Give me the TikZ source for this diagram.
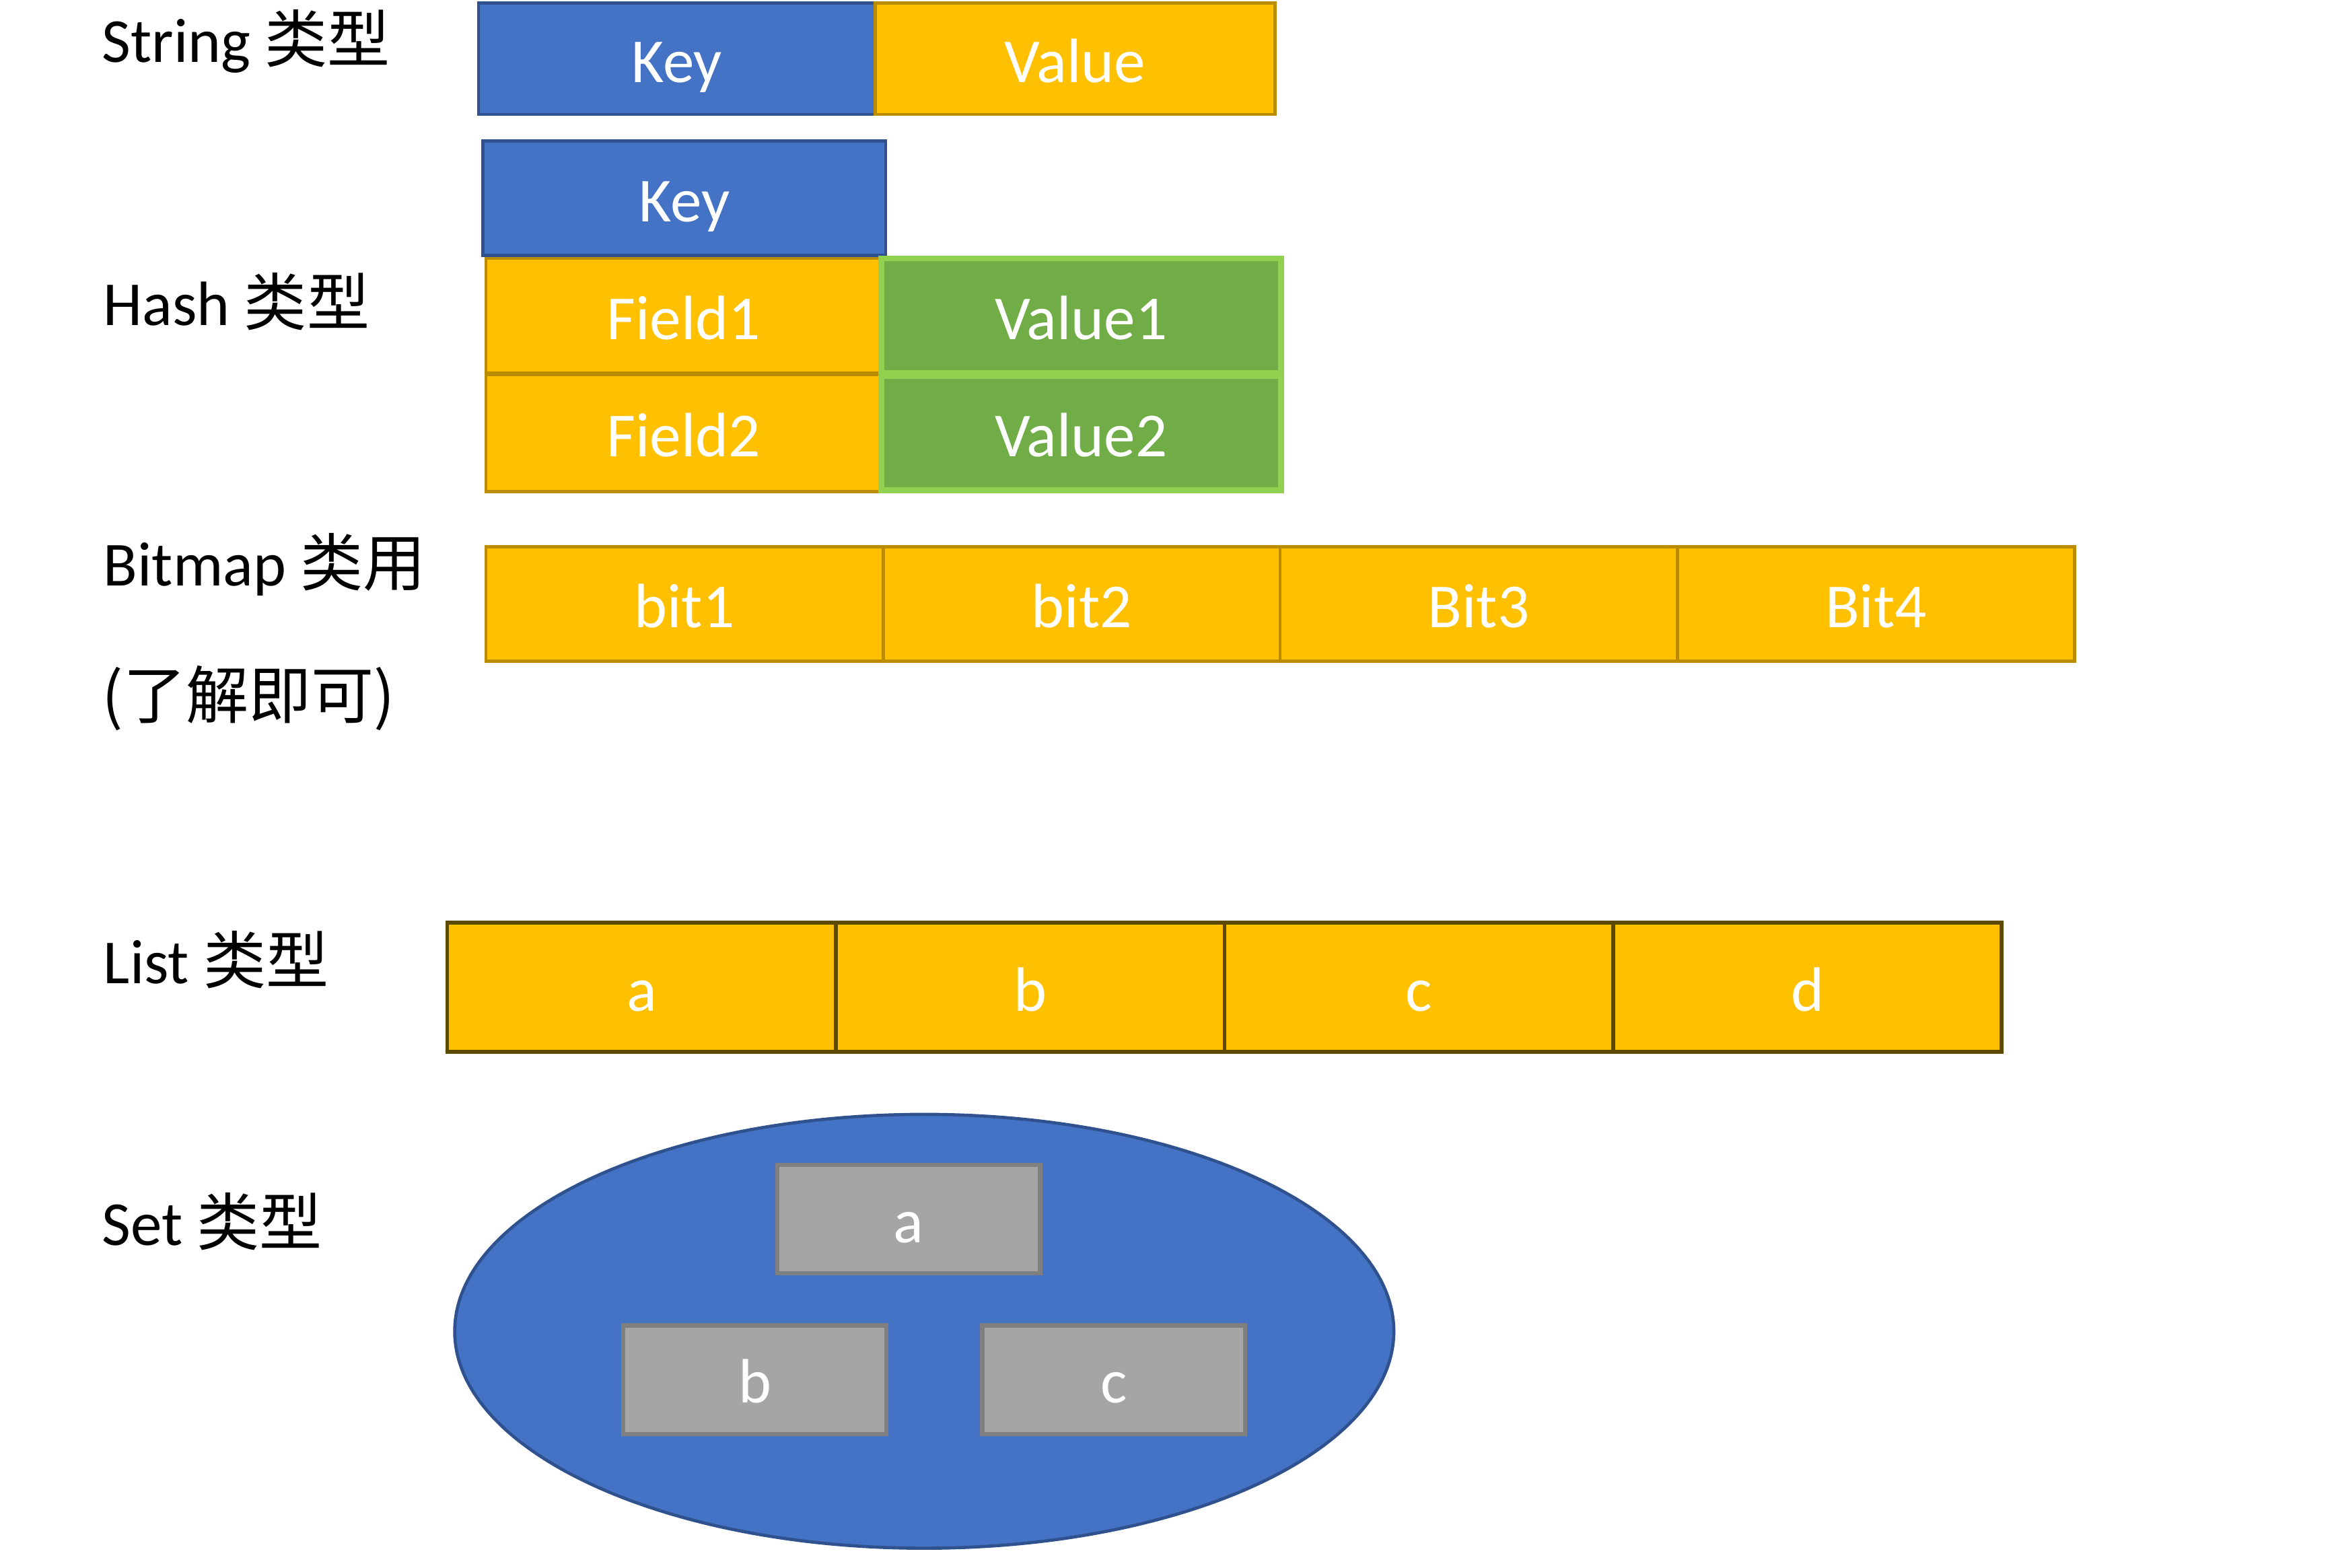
\documentclass[tikz,border=0pt]{standalone}
\usepackage{fontspec}
\setmainfont{Carlito}
\newfontfamily\cjk{Noto Sans CJK SC}
\usetikzlibrary{shapes.geometric}

\definecolor{keyblue}{HTML}{4472C4}
\definecolor{keyedge}{HTML}{2F528F}
\definecolor{gold}{HTML}{FFC000}
\definecolor{goldedge}{HTML}{BC8C00}
\definecolor{listedge}{HTML}{5C4A00}
\definecolor{valgreen}{HTML}{70AD47}
\definecolor{valedge}{HTML}{92D050}
\definecolor{setgray}{HTML}{A5A5A5}
\definecolor{grayedge}{HTML}{7F7F7F}

\begin{document}
\begin{tikzpicture}[x=1mm,y=-1mm,
	cell/.style={rectangle,inner sep=0pt,text=white,line width=0.6pt,text height=10pt,text depth=1pt,font=\fontsize{12}{14}\selectfont},
	keycell/.style={cell,fill=keyblue,draw=keyedge},
	goldcell/.style={cell,fill=gold,draw=goldedge},
	listcell/.style={cell,fill=gold,draw=listedge,line width=0.7pt,minimum width=26.15mm,minimum height=8.7mm},
	bitcell/.style={goldcell,minimum width=26.72mm,minimum height=7.7mm},
	greencell/.style={cell,fill=valgreen,draw=valedge,line width=1.1pt,minimum width=26.9mm},
	graycell/.style={cell,fill=setgray,draw=grayedge,line width=0.8pt,minimum width=17.7mm,minimum height=7.3mm},
	typelabel/.style={anchor=west,inner sep=0pt,font=\fontsize{12}{14}\selectfont}]
	\useasboundingbox (0,0) rectangle (156.8,105.5);

	% String
	\node[typelabel] (lstring) at (6.8,2.8) {String {\cjk 类型}};
	\node[keycell,minimum width=26.7mm,minimum height=7.5mm] (skey) at (45.55,3.95) {Key};
	\node[goldcell,minimum width=26.9mm,minimum height=7.5mm] (sval) at (72.35,3.95) {Value};

	% Hash
	\node[typelabel] (lhash) at (6.9,20.3) {Hash {\cjk 类型}};
	\node[keycell,minimum width=27.1mm,minimum height=7.7mm] (hkey) at (46.05,13.35) {Key};
	\node[goldcell,minimum width=26.6mm,minimum height=7.7mm] (hf1) at (46.0,21.25) {Field1};
	\node[greencell,minimum height=7.7mm] (hv1) at (72.75,21.25) {Value1};
	\node[goldcell,minimum width=26.6mm,minimum height=7.9mm] (hf2) at (46.0,29.15) {Field2};
	\node[greencell,minimum height=7.7mm] (hv2) at (72.75,29.15) {Value2};

	% Bitmap
	\node[typelabel] (lbitmap) at (6.9,38.0) {Bitmap {\cjk 类用}};
	\node[typelabel] (lnote) at (6.8,47.0) {\cjk (了解即可)};
	\node[bitcell] (b1) at (46.06,40.65) {bit1};
	\node[bitcell] (b2) at (72.79,40.65) {bit2};
	\node[bitcell] (b3) at (99.51,40.65) {Bit3};
	\node[bitcell] (b4) at (126.24,40.65) {Bit4};

	% List
	\node[typelabel] (llist) at (6.9,64.6) {List {\cjk 类型}};
	\node[listcell] (la) at (43.18,66.45) {a};
	\node[listcell] (lb) at (69.33,66.45) {b};
	\node[listcell] (lc) at (95.48,66.45) {c};
	\node[listcell] (ld) at (121.63,66.45) {d};

	% Set
	\node[typelabel] (lset) at (6.8,82.2) {Set {\cjk 类型}};
	\node[ellipse,fill=keyblue,draw=keyedge,line width=0.6pt,minimum width=63.2mm,minimum height=29.2mm] (setbody) at (62.2,89.6) {};
	\node[graycell] (sa) at (61.15,82.05) {a};
	\node[graycell] (sb) at (50.8,92.85) {b};
	\node[graycell] (sc) at (74.95,92.85) {c};
\end{tikzpicture}
\end{document}
